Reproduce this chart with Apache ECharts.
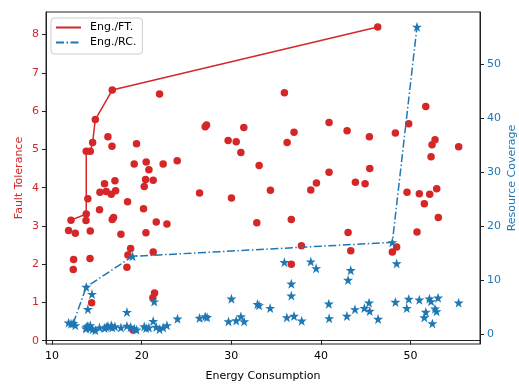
<!DOCTYPE html>
<html>
<head>
<meta charset="utf-8">
<script src="https://cdn.jsdelivr.net/npm/echarts@6/dist/echarts.min.js"></script>
<style>html,body{margin:0;padding:0;background:#fff}#c{width:519px;height:384px}</style>
</head>
<body>
<div id="c"></div>
<script>
// Fault tolerance scatter (energy, FT)
var ftEnergy = [16.72,22.0,14.83,16.24,14.53,16.69,19.43,13.82,14.27,19.17,20.51,20.81,22.4,23.97,20.44,21.29,20.29,17.02,15.86,15.35,17.1,16.61,16.05,26.46,30.02,14.0,18.43,15.3,20.21,13.82,13.79,16.87,16.72,12.12,11.85,12.6,14.27,17.69,20.48,21.63,22.82,32.85,18.77,18.47,18.36,21.29,12.41,14.24,12.37,21.44,21.25,14.42,19.03,46.34,35.93,51.7,40.91,42.92,37.0,36.23,45.41,48.31,49.8,52.73,52.4,52.29,55.37,33.11,45.45,40.91,39.5,43.85,44.93,38.87,34.37,49.61,50.98,52.14,52.92,51.54,53.1,36.7,43.03,50.72,37.83,43.33,47.97,48.45,36.7,27.09,27.24,29.65,30.55,31.4,31.07];
var ftValues = [6.55,6.45,5.78,5.33,5.18,5.08,5.15,4.95,4.95,4.62,4.67,4.47,4.62,4.70,4.21,4.19,4.03,4.18,4.10,3.88,3.92,3.83,3.90,3.86,3.73,3.71,3.63,3.42,3.45,3.31,3.14,3.22,3.17,3.15,2.88,2.81,2.87,2.78,2.82,3.10,3.05,3.08,2.41,2.24,1.92,2.32,2.12,2.15,1.86,1.25,1.12,0.99,0.28,8.2,6.48,6.12,5.70,5.49,5.45,5.18,5.33,5.43,5.67,5.25,5.12,4.81,5.07,4.58,4.5,4.40,4.12,4.14,4.10,3.94,3.93,3.88,3.84,3.83,3.97,3.58,3.22,3.17,2.83,2.84,2.48,2.35,2.32,2.45,2.00,5.59,5.64,5.23,5.20,5.57,4.92];
// Resource coverage scatter (energy, RC)
var rcEnergy = [11.85,12.12,12.37,12.6,13.82,14.46,14.0,18.36,18.99,21.4,21.29,
  13.82,13.79,14.0,14.24,14.27,14.53,14.83,15.3,15.86,16.05,16.24,16.61,16.72,17.02,17.69,18.36,18.77,19.17,19.43,20.29,20.51,20.81,21.63,22.0,22.4,22.82,
  24.0,26.46,27.09,27.3,29.69,30.02,30.55,31.07,31.44,32.92,33.1,34.34,
  35.93,36.7,36.7,36.2,37.0,37.86,38.87,39.47,40.88,40.92,42.9,43.03,43.33,43.8,44.85,45.37,45.45,46.38,
  47.97,48.45,48.31,49.8,49.58,50.98,52.1,52.29,53.07,51.7,51.54,52.73,52.9,52.43,55.37,50.72];
var rcValues = [2.1,1.9,2.0,1.6,8.7,7.4,4.6,4.05,14.37,6.0,2.4,
  1.3,1.0,1.5,1.1,1.6,0.9,0.7,1.2,1.1,1.3,1.5,1.6,1.2,1.4,1.2,1.5,1.3,1.0,0.8,1.4,1.1,1.2,1.3,0.9,1.2,1.6,
  2.83,2.96,3.26,3.1,2.33,6.53,2.5,3.26,2.33,5.55,5.3,4.8,
  13.3,9.3,7.1,3.07,3.33,2.46,13.4,12.15,5.6,2.9,3.33,10.0,11.8,4.56,4.8,5.8,4.26,2.78,
  16.96,13.07,5.93,6.48,4.8,6.35,6.54,6.04,6.72,4.07,3.07,4.68,4.19,1.96,5.8,56.85];
// Fronts
var ftFrontEnergy = [12.12,13.82,13.82,14.27,14.53,14.83,16.72,46.34];
var ftFrontValues = [3.15,3.31,4.95,4.95,5.18,5.78,6.55,8.2];
var rcFrontEnergy = [12.37,13.82,18.99,47.97,50.72];
var rcFrontValues = [2.0,8.7,14.37,16.96,56.85];
var xTicks = [10,20,30,40,50];
var ftTicks = [0,1,2,3,4,5,6,7,8];
var rcTicks = [0,10,20,30,40,50];

function zip(a,b){var r=[];for(var i=0;i<a.length;i++)r.push([a[i],b[i]]);return r;}
var RED='#d62728', BLUE='#1f77b4';
var FONT='DejaVu Sans';
var star='path://M50,0 L61.8,35.1 L98.1,35.1 L68.8,56.8 L79.4,91 L50,70 L20.6,91 L31.2,56.8 L1.9,35.1 L38.2,35.1 Z';
var chart = echarts.init(document.getElementById('c'));
chart.setOption({
  animation:false,
  backgroundColor:'#fff',
  grid:{left:46,right:39,top:12,bottom:40,containLabel:false,outerBoundsMode:'none',show:true,borderColor:'#222',borderWidth:1,backgroundColor:'transparent'},
  legend:{
    data:['Eng./FT.','Eng./RC.'],
    orient:'vertical',left:51,top:18,
    padding:[4,6,6,4],itemGap:4,itemWidth:25,itemHeight:12,
    itemStyle:{opacity:0},
    borderColor:'#cccccc',borderWidth:1,borderRadius:3,backgroundColor:'rgba(255,255,255,0.8)',
    textStyle:{fontFamily:FONT,fontSize:11,color:'#000',padding:[0,0,0,4]}
  },
  xAxis:{
    type:'value',min:9.33,max:57.75,
    name:'Energy Consumption',nameLocation:'middle',nameGap:27,nameMoveOverlap:false,
    nameTextStyle:{fontFamily:FONT,fontSize:11,color:'#000'},
    axisLine:{show:true,lineStyle:{color:'#222',width:1}},
    axisTick:{show:true,length:4,lineStyle:{color:'#222'},customValues:xTicks},
    axisLabel:{fontFamily:FONT,fontSize:11,color:'#000',margin:7,customValues:xTicks},
    splitLine:{show:false}
  },
  yAxis:[{
    type:'value',min:-0.086,max:8.59,position:'left',
    name:'Fault Tolerance',nameLocation:'middle',nameGap:21,nameMoveOverlap:false,
    nameTextStyle:{fontFamily:FONT,fontSize:11,color:RED},
    axisLine:{show:true,lineStyle:{color:'#222',width:1}},
    axisTick:{show:true,length:4,lineStyle:{color:'#222'},customValues:ftTicks},
    axisLabel:{fontFamily:FONT,fontSize:11,color:RED,margin:7,customValues:ftTicks},
    splitLine:{show:false}
  },{
    type:'value',min:-1.85,max:59.6,position:'right',
    name:'Resource Coverage',nameLocation:'middle',nameGap:27,nameMoveOverlap:false,
    nameTextStyle:{fontFamily:FONT,fontSize:11,color:BLUE},
    axisLine:{show:true,lineStyle:{color:'#222',width:1}},
    axisTick:{show:true,length:4,lineStyle:{color:'#222'},customValues:rcTicks},
    axisLabel:{fontFamily:FONT,fontSize:11,color:BLUE,margin:7,customValues:rcTicks},
    splitLine:{show:false}
  }],
  series:[
    {name:'ftPts',type:'scatter',yAxisIndex:0,symbol:'circle',symbolSize:7.5,itemStyle:{color:RED,opacity:1},data:zip(ftEnergy,ftValues),z:2},
    {name:'rcPts',type:'scatter',yAxisIndex:1,symbol:star,symbolSize:10,itemStyle:{color:BLUE,opacity:1},data:zip(rcEnergy,rcValues),z:3},
    {name:'Eng./FT.',type:'line',yAxisIndex:0,symbol:'none',lineStyle:{color:RED,width:1.5},itemStyle:{color:RED},data:zip(ftFrontEnergy,ftFrontValues),z:4},
    {name:'Eng./RC.',type:'line',yAxisIndex:1,symbol:'none',lineStyle:{color:BLUE,width:1.5,type:[8,2.5,1.5,2.5]},itemStyle:{color:BLUE},data:zip(rcFrontEnergy,rcFrontValues),z:5}
  ]
});
</script>
</body>
</html>
